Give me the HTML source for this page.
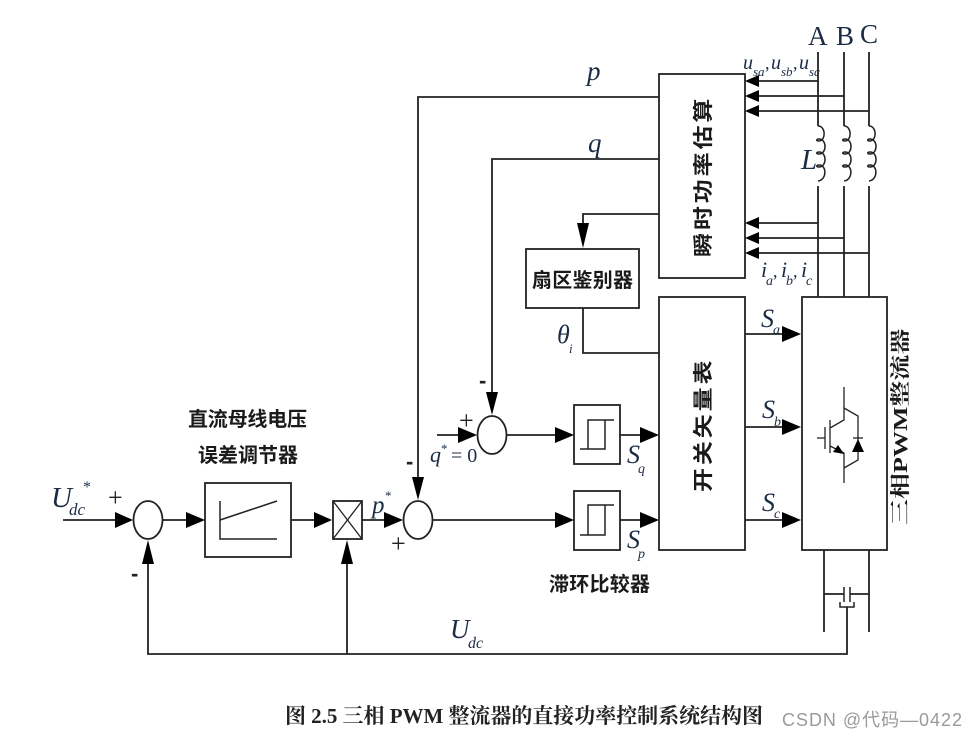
<!DOCTYPE html>
<html><head><meta charset="utf-8"><style>
html,body{margin:0;padding:0;background:#fff}
svg{display:block;filter:blur(0.35px)}
.l{stroke:#222;stroke-width:1.8;fill:none}
.t{stroke:#222;stroke-width:1.3;fill:none}
.cn{font-family:"Liberation Sans","Noto Sans CJK SC",sans-serif;font-size:20px;font-weight:bold;fill:#1a1a1a}
.m{font-family:"Liberation Serif",serif;font-style:italic;fill:#1c2c44}
.sub{font-size:13px}
.up{font-family:"Liberation Serif",serif;fill:#1c2c44}
.pl{font-family:"Liberation Serif",serif;fill:#222;font-size:26px}
.sg{font-family:"Liberation Sans",sans-serif;font-weight:bold;fill:#222;font-size:22px}
</style></head><body>
<svg width="976" height="738" viewBox="0 0 976 738" xmlns="http://www.w3.org/2000/svg">
<rect width="976" height="738" fill="#fff"/>
<g class="l">
<rect x="659" y="74" width="86" height="204"/>
<rect x="659" y="297" width="86" height="253"/>
<rect x="802" y="297" width="85" height="253"/>
<rect x="526" y="249" width="113" height="59"/>
<rect x="574" y="405" width="46" height="59"/>
<rect x="574" y="491" width="46" height="59"/>
<rect x="205" y="483" width="86" height="74"/>
<rect x="333" y="501" width="29" height="38"/>
<path d="M333 501L362 539M362 501L333 539" stroke-width="1.3"/>
<ellipse cx="148" cy="520" rx="14.5" ry="19"/>
<ellipse cx="418" cy="520" rx="14.5" ry="19"/>
<ellipse cx="492" cy="435" rx="14.5" ry="19"/>
<path d="M818 52V126M844 52V126M869 52V126M818 186V297M844 186V297M869 186V297"/>
<path d="M818 126c8 0 8 15 1 15c-3 0-3-2 0-2c8 0 8 15 0 15c-3 0-3-2 0-2c8 0 8 15 0 15c-3 0-3-2 0-2c8 0 8 15-1 16" stroke-width="1.5"/>
<path d="M844 126c8 0 8 15 1 15c-3 0-3-2 0-2c8 0 8 15 0 15c-3 0-3-2 0-2c8 0 8 15 0 15c-3 0-3-2 0-2c8 0 8 15-1 16" stroke-width="1.5"/>
<path d="M869 126c8 0 8 15 1 15c-3 0-3-2 0-2c8 0 8 15 0 15c-3 0-3-2 0-2c8 0 8 15 0 15c-3 0-3-2 0-2c8 0 8 15-1 16" stroke-width="1.5"/>
<path d="M755 81H818M755 96H844M755 111H869M755 223H818M755 238H844M755 253H869"/>
<path d="M659 97H418V480M659 159H492V395M659 214H583V228M583 308V353H659"/>
<path d="M745 334H785M745 427H785M745 520H785"/>
<path d="M506 435H558M432 520H558M620 435H643M620 520H643"/>
<path d="M437 435H462M63 520H118M163 520H188M291 520H316M362 520H387"/>
<path d="M148 560V654H847V607M347 560V654"/>
<path d="M824 550V632M869 550V632M824 594H844M850 594H869"/>
<path d="M844 587V602M850 587V602M840 602V607H854V602" stroke-width="1.5"/>
<path d="M220 501V539H277M220 520L277 501" stroke-width="1.5"/>
<path d="M580 449H605V420M588 449V420H614" stroke-width="1.5"/>
<path d="M580 535H605V505M588 535V505H614" stroke-width="1.5"/>
</g>
<g fill="#000">
<path d="M745 81l14-6v12zM745 96l14-6v12zM745 111l14-6v12zM745 223l14-6v12zM745 238l14-6v12zM745 253l14-6v12z"/>
<path d="M801 334l-19-8v16zM801 427l-19-8v16zM801 520l-19-8v16z"/>
<path d="M574 435l-19-8v16zM574 520l-19-8v16zM659 435l-19-8v16zM659 520l-19-8v16z"/>
<path d="M477 435l-19-8v16zM133 520l-18-8v16zM205 520l-19-8v16zM332 520l-18-8v16zM403 520l-19-8v16z"/>
<path d="M583 248l-6-25h12zM492 415l-6-23h12zM418 500l-6-23h12zM148 540l-6 24h12zM347 540l-6 24h12z"/>
</g>
<!-- IGBT -->
<g class="t">
<path d="M844 387V420L830 428M830 446L844 453V483"/>
<path d="M844 408L858 416V460L844 468"/>
<path d="M817 438H825M825 427V449M830 420V453"/>
<path d="M853 438H863"/>
</g>
<path d="M858 439l-6 13h12zM844 454l-11-2 5-7z" fill="#000"/>
<!-- Chinese labels -->
<text class="cn" transform="translate(710,257) rotate(-90) scale(1.2,1)" style="letter-spacing:2.4px">瞬时功率估算</text>
<text class="cn" transform="translate(710,492) rotate(-90) scale(1.2,1)" style="letter-spacing:2.4px">开关矢量表</text>
<text class="cn" transform="translate(907,525) rotate(-90) scale(1.3,1)" style="font-family:'Liberation Serif','Noto Serif CJK SC',serif">三相PWM整流器</text>
<text class="cn" x="532" y="287" textLength="101">扇区鉴别器</text>
<text class="cn" x="188" y="426" textLength="119">直流母线电压</text>
<text class="cn" x="198" y="462" textLength="100">误差调节器</text>
<text class="cn" x="549" y="591" textLength="101">滞环比较器</text>
<!-- phase -->
<text class="up" x="808" y="45" font-size="27">A</text>
<text class="up" x="836" y="45" font-size="27">B</text>
<text class="up" x="860" y="43" font-size="27">C</text>
<!-- math labels -->
<text class="m" x="743" y="69" font-size="20">u</text><text class="m sub" x="753" y="76">sa</text><text class="up" x="765" y="69" font-size="18">,</text>
<text class="m" x="771" y="69" font-size="20">u</text><text class="m sub" x="781" y="76">sb</text><text class="up" x="793" y="69" font-size="18">,</text>
<text class="m" x="799" y="69" font-size="20">u</text><text class="m sub" x="809" y="76">sc</text>
<text class="m" x="801" y="169" font-size="29">L</text>
<text class="m" x="761" y="277" font-size="22">i</text><text class="m" x="766" y="285" font-size="14">a</text><text class="up" x="773" y="277" font-size="18">,</text>
<text class="m" x="781" y="277" font-size="22">i</text><text class="m" x="786" y="285" font-size="14">b</text><text class="up" x="793" y="277" font-size="18">,</text>
<text class="m" x="801" y="277" font-size="22">i</text><text class="m" x="806" y="285" font-size="14">c</text>
<text class="m" x="587" y="80" font-size="27">p</text>
<text class="m" x="588" y="152" font-size="27">q</text>
<text class="m" x="557" y="343" font-size="26">θ</text><text class="m sub" x="569" y="353">i</text>
<text class="m" x="761" y="327" font-size="26">S</text><text class="m" x="773" y="334" font-size="14">a</text>
<text class="m" x="762" y="418" font-size="26">S</text><text class="m" x="774" y="426" font-size="14">b</text>
<text class="m" x="762" y="511" font-size="26">S</text><text class="m" x="774" y="518" font-size="14">c</text>
<text class="m" x="627" y="463" font-size="26">S</text><text class="m" x="638" y="473" font-size="14">q</text>
<text class="m" x="627" y="548" font-size="26">S</text><text class="m" x="638" y="558" font-size="14">p</text>
<text class="m" x="430" y="462" font-size="22">q</text><text class="up" x="441" y="453" font-size="13">*</text><text class="up" x="451" y="462" font-size="20">= 0</text>
<text class="m" x="51" y="507" font-size="29">U</text><text class="m" x="69" y="515" font-size="17">dc</text><text class="up" x="83" y="492" font-size="16">*</text>
<text class="m" x="450" y="638" font-size="27">U</text><text class="m" x="468" y="648" font-size="16">dc</text>
<text class="m" x="372" y="513" font-size="25">p</text><text class="up" x="385" y="500" font-size="13">*</text>
<!-- signs -->
<text class="pl" x="108" y="506">+</text>
<text class="pl" x="391" y="552">+</text>
<text class="pl" x="459" y="429">+</text>
<text class="sg" x="131" y="581">-</text>
<text class="sg" x="406" y="469">-</text>
<text class="sg" x="479" y="388">-</text>
<!-- caption -->
<text x="285" y="723" textLength="478" style="font-family:'Liberation Serif','Noto Serif CJK SC',serif;font-weight:bold;font-size:21px" fill="#222">图 2.5 三相 PWM 整流器的直接功率控制系统结构图</text>
<text x="782" y="726" textLength="180" style="font-family:'Liberation Sans','Noto Sans CJK SC',sans-serif;font-size:18px" fill="#9a9a9a">CSDN @代码—0422</text>
</svg>
</body></html>
